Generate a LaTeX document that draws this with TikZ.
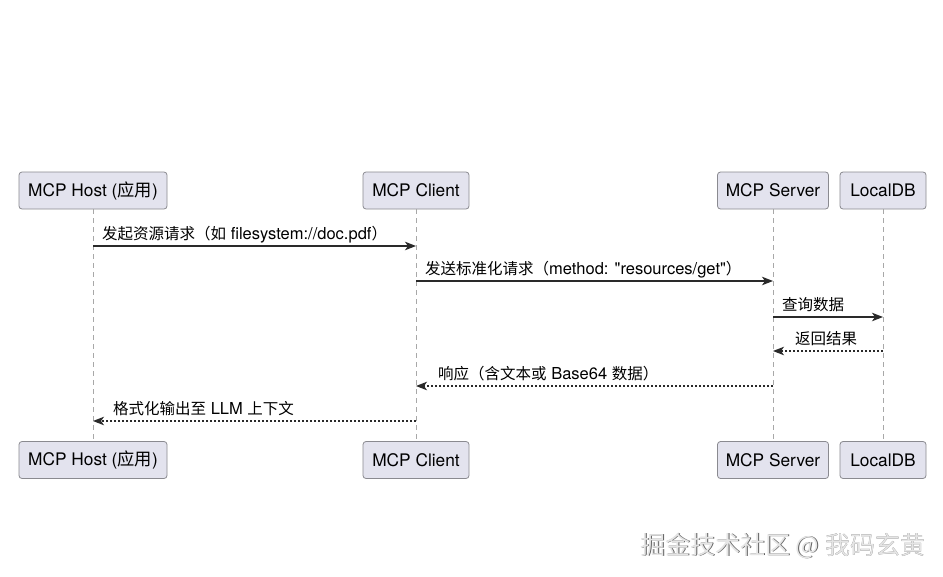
\documentclass[tikz,border=0pt]{standalone}
\usepackage{fontspec}
\setmainfont{TeX Gyre Heros}
\newfontfamily\cjk{Noto Sans CJK SC}
\usetikzlibrary{arrows.meta}
\definecolor{boxfill}{HTML}{E3E3EE}
\definecolor{boxline}{HTML}{8A8A90}
\definecolor{lifeline}{HTML}{A8A8A8}
\definecolor{msgline}{HTML}{2A2A2A}
\newcommand{\lt}[1]{{\fontsize{16.5}{18}\selectfont #1}}
\tikzset{
  actor/.style={draw=boxline, fill=boxfill, rounded corners=3pt, line width=0.8pt,
    minimum height=37pt, inner sep=0pt, font=\fontsize{17.3}{19}\selectfont, text=black},
  life/.style={draw=lifeline, dash pattern=on 5pt off 4pt, line width=0.6pt},
  msg/.style={draw=msgline, line width=1.2pt, -{Stealth[length=11pt,width=8.5pt,inset=3pt]}},
  reply/.style={msg, dash pattern=on 2pt off 2pt},
  lbl/.style={font=\cjk\fontsize{15.5}{18}\selectfont, inner sep=0pt, anchor=base west, text=black},
  wm/.style={font=\cjk\fontsize{25}{30}\selectfont, inner sep=0pt, anchor=base west}
}
\begin{document}
\begin{tikzpicture}[x=1pt,y=-1pt]
\useasboundingbox (0,0) rectangle (943,576);
\fill[white] (0,0) rectangle (943,576);
% actors top
\node[actor, minimum width=148pt] (hostT) at (93,190.5) {MCP Host ({\cjk 应用})};
\node[actor, minimum width=106pt] (clientT) at (416,190.5) {MCP Client};
\node[actor, minimum width=111pt] (serverT) at (773,190.5) {MCP Server};
\node[actor, minimum width=86pt] (dbT) at (883,190.5) {LocalDB};
% actors bottom
\node[actor, minimum width=148pt] (hostB) at (93,460) {MCP Host ({\cjk 应用})};
\node[actor, minimum width=106pt] (clientB) at (416,460) {MCP Client};
\node[actor, minimum width=111pt] (serverB) at (773,460) {MCP Server};
\node[actor, minimum width=86pt] (dbB) at (883,460) {LocalDB};
% lifelines
\draw[life] (hostT) -- (hostB);
\draw[life] (clientT) -- (clientB);
\draw[life] (serverT) -- (serverB);
\draw[life] (dbT) -- (dbB);
% message rows
\coordinate (r1) at (0,246);
\coordinate (r2) at (0,281);
\coordinate (r3) at (0,317);
\coordinate (r4) at (0,351);
\coordinate (r5) at (0,386);
\coordinate (r6) at (0,421);
\draw[msg] (hostT |- r1) -- (clientT |- r1);
\draw[msg] (clientT |- r2) -- (serverT |- r2);
\draw[msg] (serverT |- r3) -- (dbT |- r3);
\draw[reply] (dbT |- r4) -- (serverT |- r4);
\draw[reply] (serverT |- r5) -- (clientT |- r5);
\draw[reply] (clientT |- r6) -- (hostT |- r6);
% labels
\node[lbl] (l1) at (102,239.5) {发起资源请求（如\lt{\rmfamily\ filesystem://doc.pdf}）};
\node[lbl] (l2) at (425,274.5) {发送标准化请求（\lt{\rmfamily method: \textquotedbl resources/get\textquotedbl}）};
\node[lbl] (l3) at (782,310.5) {查询数据};
\node[lbl] (l4) at (795,344.5) {返回结果};
\node[lbl] (l5) at (438,379.5) {响应（含文本或\lt{\rmfamily\ Base64 }数据）};
\node[lbl] (l6) at (113,414.5) {格式化输出至\lt{\rmfamily\ LLM }上下文};
% watermark
\node[wm, text=gray!75!black] (wms) at (640.9,554.9) {掘金技术社区 @ 我码玄黄};
\node[wm, text=gray!20] (wmt) at (640,554) {掘金技术社区 @ 我码玄黄};
\end{tikzpicture}
\end{document}
